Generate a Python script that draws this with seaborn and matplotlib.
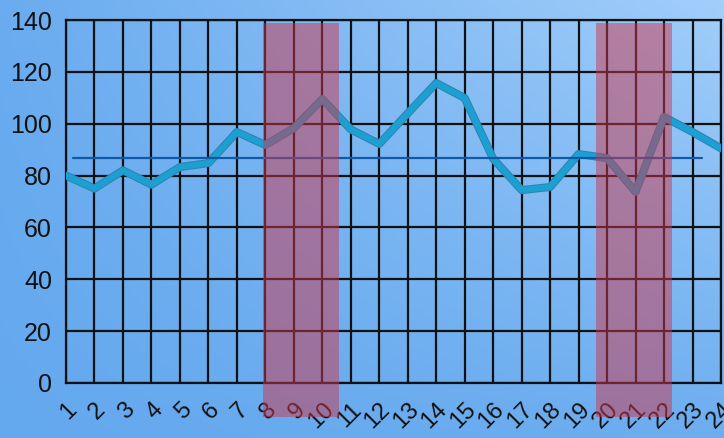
import numpy as np
import pandas as pd
import matplotlib
matplotlib.use('Agg')
import matplotlib.pyplot as plt
import matplotlib.patheffects as pe
from matplotlib.patches import Rectangle
import seaborn as sns

# 数据
days = list(range(1, 25))
values = [80, 75, 82, 76.5, 83.3, 84.8, 96.8, 91.8, 98.3, 109.5, 97.8, 92.2,
          104, 115.7, 109.9, 86.5, 74.4, 75.6, 88.3, 86.7, 73.7, 102.6, 96.8, 90.5]
mean_level = 86.8
mean_span = (1.25, 23.35)
shade_spans = [(7.93, 10.57), (19.6, 22.28)]
shade_range = (-13, 139)
y_ticks = list(range(0, 141, 20))

sns.set_style('white')
plt.rcParams['font.family'] = ['Liberation Sans', 'DejaVu Sans']

fig = plt.figure(figsize=(7.24, 4.38), dpi=100)

# 背景渐变
bg = fig.add_axes([0, 0, 1, 1], zorder=-10)
gx, gy = np.meshgrid(np.linspace(0, 1, 200), np.linspace(0, 1, 120))
t = 0.75 * gx * gy + 0.15 * gx + 0.1 * gy
c0 = np.array([100, 168, 238]) / 255.0
c1 = np.array([162, 206, 250]) / 255.0
img = c0[None, None, :] + (c1 - c0)[None, None, :] * t[:, :, None]
bg.imshow(img, origin='lower', aspect='auto', extent=[0, 1, 0, 1])
bg.axis('off')

ax = fig.add_axes([66 / 724, 1 - 383 / 438, 655 / 724, 363 / 438])
ax.patch.set_alpha(0)

df = pd.DataFrame({'day': days, 'value': values})
sns.lineplot(data=df, x='day', y='value', ax=ax, color='#1c9fd2', linewidth=4.4,
             zorder=3,
             path_effects=[pe.Stroke(linewidth=5.8, foreground='#2f82aa'), pe.Normal()])

ax.plot(mean_span, [mean_level, mean_level], color='#0f5aa6', linewidth=1.6, zorder=4)

for x0, x1 in shade_spans:
    ax.add_patch(Rectangle((x0, shade_range[0]), x1 - x0, shade_range[1] - shade_range[0],
                           facecolor=(0.8, 0.22, 0.3, 0.5), edgecolor='none',
                           clip_on=False, zorder=5))

ax.set_xlim(1, 24)
ax.set_ylim(0, 140)
ax.set_xticks(days)
ax.set_yticks(y_ticks)
ax.set_xticklabels([str(d) for d in days], rotation=45, ha='right', va='top',
                   rotation_mode='anchor')
ax.grid(True, color='#111111', linewidth=1.6, zorder=1)
ax.set_axisbelow(True)
ax.tick_params(axis='both', which='major', length=7, width=1.6, color='#111111',
               labelcolor='#111111', pad=3, direction='out')
ax.tick_params(axis='y', labelsize=18)
ax.tick_params(axis='x', labelsize=17, pad=4)
for s in ax.spines.values():
    s.set_color('#111111')
    s.set_linewidth(1.6)
ax.set_xlabel('')
ax.set_ylabel('')

fig.savefig('out.png', dpi=100)
